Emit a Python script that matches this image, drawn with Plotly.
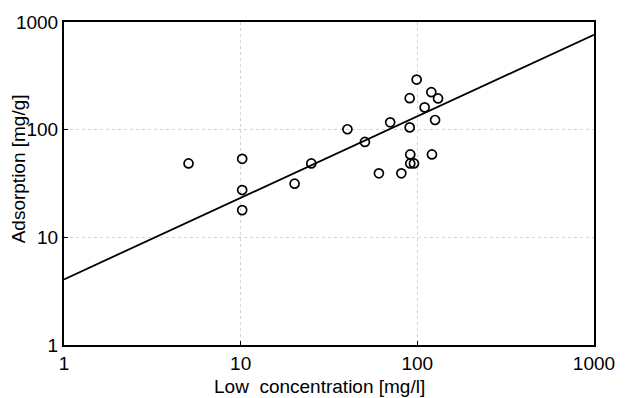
import plotly.graph_objects as go

# Data
conc = [5.07, 10.2, 10.2, 10.2, 20.2, 25.1, 40.2, 50.5, 60.6, 70.2, 81.2,
        90.5, 90.5, 91.2, 91.2, 95.7, 99.1, 110, 120, 131, 126, 121]
adsorption = [48.6, 53.6, 27.5, 17.9, 31.5, 48.6, 100.9, 76.9, 39.3, 117, 39.3,
              196, 105, 58.9, 48.6, 48.6, 292, 161, 223, 195, 123, 58.9]
fit_x = [1, 1000]
fit_y = [4.07, 760]
tick_vals = [1, 10, 100, 1000]
tick_text = ["1", "10", "100", "1000"]

FONT = "Liberation Sans, Arial, sans-serif"

fig = go.Figure()
fig.add_trace(go.Scatter(x=fit_x, y=fit_y, mode="lines",
                         line=dict(color="black", width=1.8), showlegend=False))
fig.add_trace(go.Scatter(x=conc, y=adsorption, mode="markers",
                         marker=dict(symbol="circle-open", size=9,
                                     color="black", line=dict(width=1.7)),
                         showlegend=False))

axis_common = dict(type="log", showline=True, linecolor="black", linewidth=2,
                   mirror=True, ticks="inside", ticklen=4, tickcolor="black",
                   tickvals=tick_vals, ticktext=tick_text,
                   showgrid=True, gridcolor="#d4d4d4", griddash="dot", gridwidth=1,
                   zeroline=False,
                   tickfont=dict(family=FONT, size=19, color="black"))

fig.update_xaxes(range=[0, 3], **axis_common)
fig.update_yaxes(range=[0, 3], **axis_common)

fig.add_annotation(text="Adsorption [mg/g]", xref="paper", yref="paper",
                   x=(18 - 64) / 533, y=(345 - 168) / 325, textangle=-90,
                   showarrow=False, xanchor="center", yanchor="middle",
                   font=dict(family=FONT, size=19, color="black"))
fig.add_annotation(text="Low  concentration [mg/l]", xref="paper", yref="paper",
                   x=(321 - 64) / 533, y=(345 - 387) / 325,
                   showarrow=False, xanchor="center", yanchor="middle",
                   font=dict(family=FONT, size=19, color="black"))

fig.update_layout(width=627, height=398,
                  margin=dict(l=64, r=30, t=20, b=53),
                  paper_bgcolor="white", plot_bgcolor="white")

fig.write_html("out.html")
